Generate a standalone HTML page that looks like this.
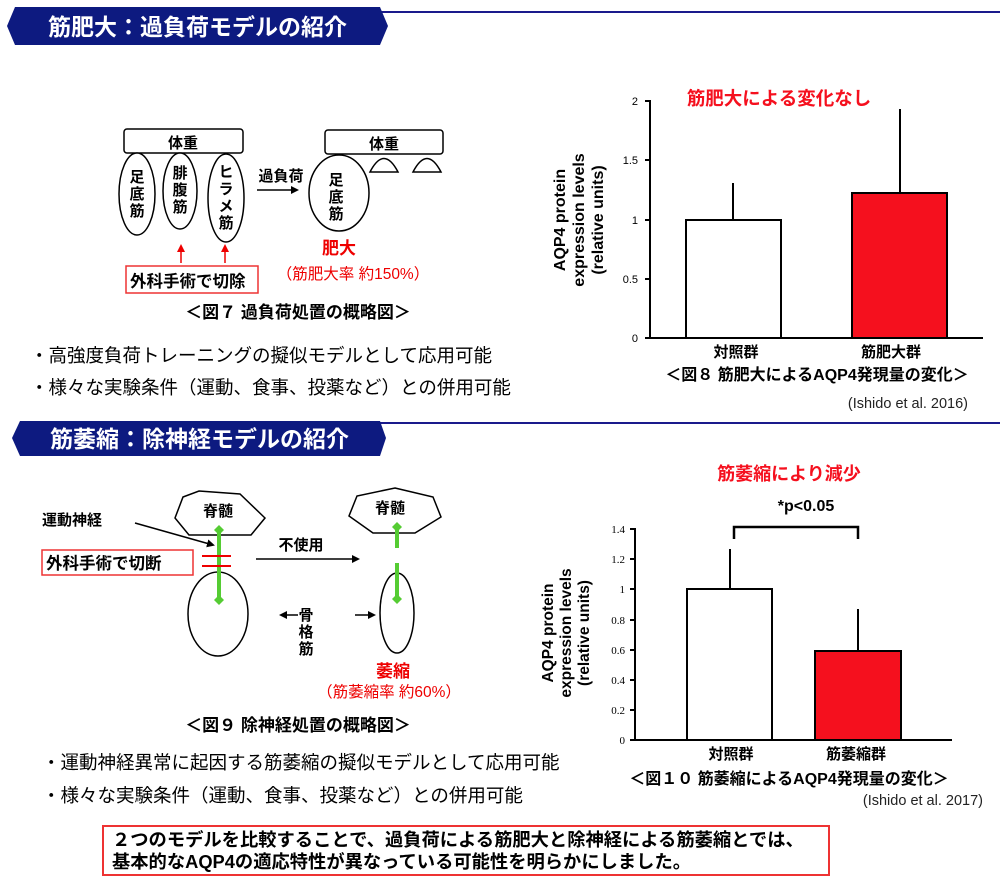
<!DOCTYPE html>
<html><head><meta charset="utf-8"><style>
html,body{margin:0;padding:0;background:#fff}
svg{display:block;font-family:"Liberation Sans","Noto Sans CJK JP",sans-serif}
.b{font-weight:bold}
</style></head><body>
<svg width="1000" height="881" viewBox="0 0 1000 881" xmlns="http://www.w3.org/2000/svg">
<defs>
<marker id="ah" markerWidth="8" markerHeight="8" refX="6" refY="4" orient="auto" markerUnits="userSpaceOnUse"><path d="M0,0 L8,4 L0,8z" fill="#000"/></marker>
<marker id="ahr" markerWidth="8" markerHeight="8" refX="6" refY="4" orient="auto" markerUnits="userSpaceOnUse"><path d="M0,0 L8,4 L0,8z" fill="#e00"/></marker>
<marker id="gd" markerWidth="10" markerHeight="10" refX="5" refY="5" orient="auto" markerUnits="userSpaceOnUse"><path d="M0,5 L5,0 L10,5 L5,10z" fill="#5c3"/></marker>
</defs>
<line x1="380" y1="12" x2="1000" y2="12" stroke="#1a1a8c" stroke-width="2"/>
<polygon points="15,7 380,7 388,26 380,45 15,45 7,26" fill="#0d1a80"/>
<text x="48" y="35" font-size="23" fill="#fff" class="b">筋肥大：過負荷モデルの紹介</text>
<line x1="380" y1="423" x2="1000" y2="423" stroke="#1a1a8c" stroke-width="2"/>
<polygon points="20,421 380,421 386,438 380,456 20,456 12,438" fill="#0d1a80"/>
<text x="50" y="447" font-size="23" fill="#fff" class="b">筋萎縮：除神経モデルの紹介</text>

<g stroke="#000" stroke-width="1.5" fill="#fff">
<rect x="124" y="129" width="119" height="24" rx="3"/>
<ellipse cx="137" cy="194" rx="18" ry="41"/>
<ellipse cx="180" cy="191" rx="17" ry="38"/>
<ellipse cx="226" cy="198" rx="18" ry="44"/>
<rect x="325" y="130" width="118" height="24" rx="3"/>
<ellipse cx="339" cy="193" rx="30" ry="38"/>
<path d="M370,172 Q384,145 398,172 Z"/>
<path d="M413,172 Q427,145 441,172 Z"/>
</g>
<g font-size="15" class="b" text-anchor="middle">
<text x="183" y="148">体重</text><text x="384" y="149">体重</text>
<text x="137" y="182">足</text><text x="137" y="199">底</text><text x="137" y="216">筋</text>
<text x="180" y="178">腓</text><text x="180" y="195">腹</text><text x="180" y="212">筋</text>
<text x="226" y="177">ヒ</text><text x="226" y="194">ラ</text><text x="226" y="211">メ</text><text x="226" y="228">筋</text>
<text x="336" y="185">足</text><text x="336" y="202">底</text><text x="336" y="219">筋</text>
<text x="281" y="181">過負荷</text>
</g>
<line x1="257" y1="190" x2="297" y2="190" stroke="#000" stroke-width="1.5" marker-end="url(#ah)"/>
<line x1="181" y1="263" x2="181" y2="246" stroke="#e00" stroke-width="1.5" marker-end="url(#ahr)"/>
<line x1="225" y1="263" x2="225" y2="246" stroke="#e00" stroke-width="1.5" marker-end="url(#ahr)"/>
<rect x="126" y="266" width="132" height="27" fill="none" stroke="#e33" stroke-width="1.5"/>
<text x="130" y="287" font-size="16.5" class="b">外科手術で切除</text>
<text x="339" y="254" font-size="17" class="b" fill="#e00" text-anchor="middle">肥大</text>
<text x="353" y="279" font-size="15.5" fill="#e00" text-anchor="middle">（筋肥大率 約150%）</text>
<text x="298" y="318" font-size="17" class="b" text-anchor="middle">＜図７ 過負荷処置の概略図＞</text>
<text x="30" y="362" font-size="18.5">・高強度負荷トレーニングの擬似モデルとして応用可能</text>
<text x="30" y="394" font-size="18.5">・様々な実験条件（運動、食事、投薬など）との併用可能</text>

<g font-size="11" text-anchor="end">
<text x="638" y="105">2</text><text x="638" y="164">1.5</text><text x="638" y="224">1</text><text x="638" y="283">0.5</text><text x="638" y="342">0</text>
</g>
<g stroke="#000" stroke-width="2">
<line x1="650" y1="100" x2="650" y2="339"/>
<line x1="645" y1="338" x2="983" y2="338"/>
<line x1="645" y1="101" x2="650" y2="101"/><line x1="645" y1="160" x2="650" y2="160"/><line x1="645" y1="220" x2="650" y2="220"/><line x1="645" y1="279" x2="650" y2="279"/>
<line x1="733" y1="220" x2="733" y2="183"/>
<line x1="900" y1="193" x2="900" y2="109"/>
<rect x="686" y="220" width="95" height="118" fill="#fff"/>
<rect x="852" y="193" width="95" height="145" fill="#f5101e"/>
</g>
<g font-size="16" class="b" text-anchor="middle" transform="translate(578,220) rotate(-90)">
<text x="0" y="-13">AQP4 protein</text><text x="0" y="6">expression levels</text><text x="0" y="25">(relative units)</text>
</g>
<text x="779" y="105" font-size="18.5" class="b" fill="#f5101e" text-anchor="middle">筋肥大による変化なし</text>
<text x="736" y="357" font-size="15" class="b" text-anchor="middle">対照群</text>
<text x="891" y="357" font-size="15" class="b" text-anchor="middle">筋肥大群</text>
<text x="817" y="380" font-size="16" class="b" text-anchor="middle">＜図８ 筋肥大によるAQP4発現量の変化＞</text>
<text x="968" y="408" font-size="14.5" fill="#222" text-anchor="end">(Ishido et al. 2016)</text>

<g stroke="#000" stroke-width="1.5" fill="#fff">
<polygon points="199,491 240,494 265,518 251,535 189,535 175,518 183,497"/>
<polygon points="395,488 433,497 441,517 415,533 373,533 349,516 357,496"/>
<ellipse cx="218" cy="614" rx="30" ry="42"/>
<ellipse cx="397" cy="613" rx="17" ry="40"/>
</g>
<g font-size="15" class="b" text-anchor="middle">
<text x="218" y="516">脊髄</text><text x="390" y="513">脊髄</text>
<text x="301" y="550">不使用</text>
<text x="306" y="620">骨</text><text x="306" y="637">格</text><text x="306" y="654">筋</text>
</g>
<text x="42" y="525" font-size="15" class="b">運動神経</text>
<line x1="135" y1="523" x2="213" y2="545" stroke="#000" stroke-width="1.5" marker-end="url(#ah)"/>
<rect x="42" y="550" width="151" height="25" fill="none" stroke="#e33" stroke-width="1.5"/>
<text x="46" y="569" font-size="16.5" class="b">外科手術で切断</text>
<line x1="219" y1="600" x2="219" y2="530" stroke="#5c3" stroke-width="4" marker-start="url(#gd)" marker-end="url(#gd)"/>
<line x1="202" y1="556" x2="231" y2="556" stroke="#e00" stroke-width="2"/>
<line x1="202" y1="566" x2="231" y2="566" stroke="#e00" stroke-width="2"/>
<line x1="256" y1="559" x2="358" y2="559" stroke="#000" stroke-width="1.5" marker-end="url(#ah)"/>
<line x1="397" y1="548" x2="397" y2="527" stroke="#5c3" stroke-width="4" marker-end="url(#gd)"/>
<line x1="397" y1="563" x2="397" y2="599" stroke="#5c3" stroke-width="4" marker-end="url(#gd)"/>
<line x1="298" y1="615" x2="281" y2="615" stroke="#000" stroke-width="1.5" marker-end="url(#ah)"/>
<line x1="355" y1="615" x2="374" y2="615" stroke="#000" stroke-width="1.5" marker-end="url(#ah)"/>
<text x="393" y="677" font-size="17" class="b" fill="#e00" text-anchor="middle">萎縮</text>
<text x="389" y="697" font-size="15.5" fill="#e00" text-anchor="middle">（筋萎縮率 約60%）</text>
<text x="298" y="731" font-size="17" class="b" text-anchor="middle">＜図９ 除神経処置の概略図＞</text>
<text x="42" y="769" font-size="18.5">・運動神経異常に起因する筋萎縮の擬似モデルとして応用可能</text>
<text x="42" y="802" font-size="18.5">・様々な実験条件（運動、食事、投薬など）との併用可能</text>

<g font-size="11" text-anchor="end" font-family="Liberation Serif,serif">
<text x="625" y="533">1.4</text><text x="625" y="563">1.2</text><text x="625" y="593">1</text><text x="625" y="624">0.8</text><text x="625" y="654">0.6</text><text x="625" y="684">0.4</text><text x="625" y="714">0.2</text><text x="625" y="744">0</text>
</g>
<g stroke="#000" stroke-width="2" fill="none">
<line x1="635" y1="528" x2="635" y2="741"/>
<line x1="630" y1="740" x2="952" y2="740"/>
<line x1="630" y1="529" x2="635" y2="529"/><line x1="630" y1="559" x2="635" y2="559"/><line x1="630" y1="589" x2="635" y2="589"/><line x1="630" y1="620" x2="635" y2="620"/><line x1="630" y1="650" x2="635" y2="650"/><line x1="630" y1="680" x2="635" y2="680"/><line x1="630" y1="710" x2="635" y2="710"/>
<line x1="730" y1="589" x2="730" y2="549"/>
<line x1="858" y1="651" x2="858" y2="609"/>
<rect x="687" y="589" width="85" height="151" fill="#fff"/>
<rect x="815" y="651" width="86" height="89" fill="#f5101e"/>
<path d="M734,539 V527 H858 V539" stroke-width="2.5"/>
</g>
<g font-size="15.5" class="b" text-anchor="middle" transform="translate(565,633) rotate(-90)">
<text x="0" y="-12">AQP4 protein</text><text x="0" y="6">expression levels</text><text x="0" y="24">(relative units)</text>
</g>
<text x="789" y="480" font-size="18" class="b" fill="#f5101e" text-anchor="middle">筋萎縮により減少</text>
<text x="806" y="511" font-size="16" class="b" text-anchor="middle">*p&lt;0.05</text>
<text x="731" y="759" font-size="15" class="b" text-anchor="middle">対照群</text>
<text x="856" y="759" font-size="15" class="b" text-anchor="middle">筋萎縮群</text>
<text x="789" y="784" font-size="16" class="b" text-anchor="middle">＜図１０ 筋萎縮によるAQP4発現量の変化＞</text>
<text x="983" y="805" font-size="14.5" fill="#222" text-anchor="end">(Ishido et al. 2017)</text>

<rect x="103" y="826" width="726" height="49" fill="none" stroke="#e33" stroke-width="2"/>
<text x="112" y="846" font-size="18.3" class="b">２つのモデルを比較することで、過負荷による筋肥大と除神経による筋萎縮とでは、</text>
<text x="112" y="868" font-size="18.3" class="b">基本的なAQP4の適応特性が異なっている可能性を明らかにしました。</text>
</svg>
</body></html>
